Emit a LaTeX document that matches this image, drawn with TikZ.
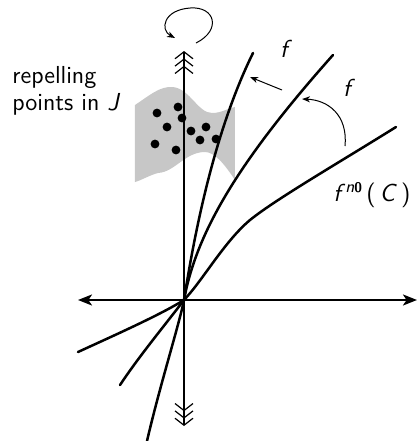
\documentclass[tikz,border=0pt]{standalone}
\usetikzlibrary{arrows.meta}
\tikzset{
  triplebarb/.tip={Straight Barb[length=3.5pt,width=9pt,line width=0.6pt,sep=-0.5pt]
    Straight Barb[length=3.5pt,width=9pt,line width=0.6pt,sep=-0.5pt]
    Straight Barb[length=3.5pt,width=9pt,line width=0.6pt,sep=-0.5pt]}}
\begin{document}
\begin{tikzpicture}[x=0.5pt,y=-0.5pt,
  curve/.style={line width=1.25pt, line cap=round},
  axis/.style={line width=1pt},
  thinarrow/.style={line width=0.5pt,-{Stealth[length=4pt,width=3pt,inset=1.2pt]}},
  lbl/.style={font=\sffamily\fontsize{12.3}{13.5}\selectfont, inner sep=0pt},
  dotnode/.style={circle, fill=black, inner sep=0pt, minimum size=4.4pt}]
\useasboundingbox (0,0) rectangle (417,441);

% gray sheet of repelling points
\fill[black!22] (135,105) .. controls (150,95) and (160,86) .. (173,87)
  .. controls (190,89) and (198,113) .. (212,113)
  .. controls (222,113) and (228,108) .. (235,107) -- (235,180)
  .. controls (225,165) and (215,152) .. (205,152)
  .. controls (185,152) and (175,172) .. (158,173)
  .. controls (150,175) and (142,180) .. (135,182) -- cycle;

\foreach \n/\p in {1/{(157,113)},2/{(178,107)},3/{(182,118)},4/{(167,127)},5/{(191,131)},
  6/{(206,127)},7/{(200,140)},8/{(216,139)},9/{(155,144)},10/{(176,150)}}
  \node[dotnode] (d\n) at \p {};

% axes
\coordinate (O) at (184,300);
\coordinate (xl) at (78,300);
\coordinate (xr) at (417,300);
\coordinate (yt) at (184,52);
\coordinate (yb) at (184,425);
\draw[axis,{Stealth[length=7pt,width=5.5pt,inset=1.8pt]}-{Stealth[length=7pt,width=5.5pt,inset=1.8pt]}] (xl) -- (xr);
\draw[axis,{triplebarb}-{triplebarb}] (yb) -- (yt);

% curves
\coordinate (c1t) at (253,53);
\coordinate (c1b) at (147,441);
\coordinate (c2t) at (333,55);
\coordinate (c2b) at (120,385);
\coordinate (c3m) at (250,220);
\coordinate (c3t) at (396,127);
\coordinate (c3b) at (78,352);
\draw[curve] (c1b) .. controls (160,385) and (179,325) .. (O)
  .. controls (195,230) and (215,130) .. (c1t);
\draw[curve] (c2b) .. controls (140,355) and (165,325) .. (O)
  .. controls (196,235) and (235,165) .. (c2t);
\draw[curve] (c3b) .. controls (115,335) and (160,315) .. (O)
  .. controls (203,280) and (224,242) .. (c3m)
  .. controls (276,199) and (340,162) .. (c3t);

% small arrows
\coordinate (a1s) at (282,90);
\coordinate (a1e) at (250,77);
\draw[thinarrow] (a1s) -- (a1e);
\coordinate (a2s) at (345,146);
\coordinate (a2e) at (302,99);
\draw[thinarrow] (a2s) .. controls (348,115) and (328,100) .. (a2e);

% rotation loop
\coordinate (r1) at (196,43);
\coordinate (r2) at (175,38);
\draw[thinarrow] (r1) .. controls (222,30) and (215,6) .. (190,8)
  .. controls (163,10) and (160,30) .. (r2);

% labels
\node[lbl,anchor=north west,align=left] (rep) at (12,66) {repelling\\points in \textit{J}};
\node[lbl] (f1) at (286,49) {\textit{f}};
\node[lbl] (f2) at (349,88) {\textit{f}};
\node[lbl,anchor=east] (fc) at (411,195) {\textit{f}\raisebox{0.9ex}{\fontsize{8.5}{9}\selectfont\textit{n}\fontsize{7}{7}\selectfont\textbf{0}}\,(\,\textit{C}\,)};
\end{tikzpicture}
\end{document}
